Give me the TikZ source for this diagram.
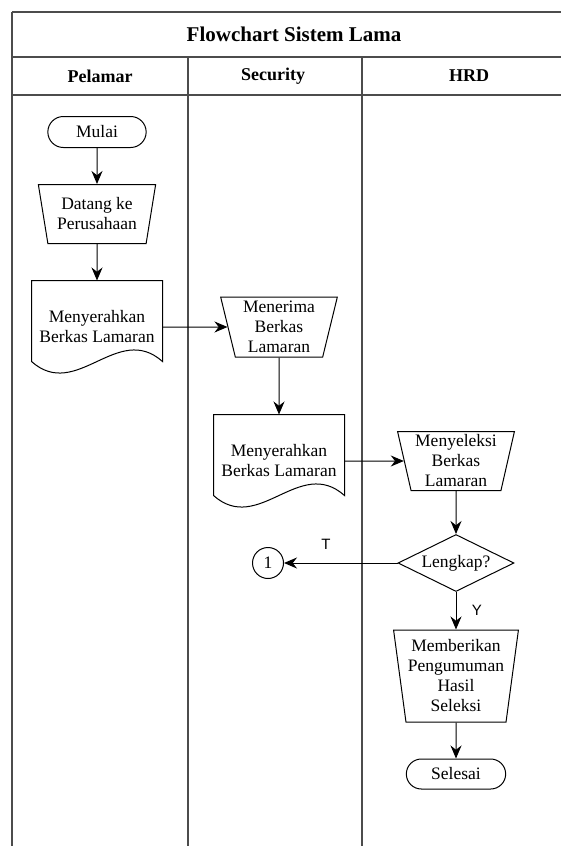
\documentclass[tikz,border=0pt]{standalone}
\usepackage{fontspec}
\setmainfont{Liberation Serif}
\newfontfamily\labelfont{Liberation Sans}
\usetikzlibrary{shapes.geometric,shapes.misc,arrows.meta}

\begin{document}
\begin{tikzpicture}[x=1pt,y=-1pt,
    lane/.style={draw=black!70,line width=1.6pt},
    term/.style={rounded rectangle,minimum width=105pt,minimum height=31pt},
    manual/.style={trapezium,trapezium stretches=true,shape border rotate=180,
      trapezium left angle=#1,trapezium right angle=#1,inner sep=1pt},
    manual/.default=77,
    docbox/.style={rectangle,draw=none,minimum width=130pt,minimum height=92pt},
    decision/.style={diamond,aspect=2,minimum width=116pt,minimum height=57pt,inner sep=0pt},
    conn/.style={circle,minimum size=31pt,inner sep=0pt}]

      \useasboundingbox (0,0) rectangle (561,846);
      \clip (0,0) rectangle (561,846);

      % swimlanes
      \foreach \y in {12,57,95}
        \draw[lane] (12,\y) -- (600,\y);
      \draw[lane] (12,12) -- (12,900);
      \foreach \x in {188,362}
        \draw[lane] (\x,57) -- (\x,900);

      \node[font=\fontsize{21}{24}\selectfont\bfseries] (title) at (294,34) {Flowchart Sistem Lama};
      \begin{scope}[every node/.style={font=\fontsize{18}{20}\selectfont\bfseries}]
        \node (pelamar)  at (100,76) {Pelamar};
        \node (security) at (273,76) {Security};
        \node (hrd)      at (469,76) {HRD};
      \end{scope}

      \begin{scope}[every node/.style={draw,line width=1pt,align=center,
          font=\fontsize{17.5}{20}\selectfont}]
        \node[term] (1) at (97,132) {Mulai};
        \node[manual,minimum width=118pt,minimum height=59pt] (2) at (97,214) {Datang ke\\Perusahaan};
        \node[docbox] (3) at (97,327) {Menyerahkan\\Berkas Lamaran};
        \node[manual,minimum width=117pt,minimum height=60pt] (4) at (279,327) {Menerima\\Berkas\\Lamaran};
        \node[docbox] (5) at (279,461) {Menyerahkan\\Berkas Lamaran};
        \node[manual,minimum width=117pt,minimum height=59pt] (6) at (456,461) {Menyeleksi\\Berkas\\Lamaran};
        \node[decision] (7) at (456,563) {Lengkap?};
        \node[conn] (8) at (268,563) {1};
        \node[manual=80.7,minimum width=125pt,minimum height=92pt] (9) at (456,676) {Memberikan\\Pengumuman\\Hasil\\Seleksi};
        \node[term,minimum width=106pt,minimum height=30pt] (10) at (456,774) {Selesai};
      \end{scope}

      % document outlines
      \foreach \d in {3,5}
        \draw[line width=1pt] (\d.north west) -- (\d.north east) -- ([yshift=12pt]\d.south east)
          .. controls +(-45pt,40pt) and +(45pt,-40pt) .. ([yshift=12pt]\d.south west) -- cycle;

      \begin{scope}[every node/.style={font=\labelfont\fontsize{15}{18}\selectfont}]

        \begin{scope}[every edge/.style={draw,line width=1pt,-{Stealth[length=13pt,width=11pt]}}]
          \path (1) edge (2);
          \path (2) edge (3);
          \path (3) edge (4);
          \path (4) edge (5);
          \path (5) edge (6);
          \path (6) edge (7);
          \path (7) edge node[above=10pt,pos=.63] {T} (8);
          \path (7) edge node[right=12pt] {Y} (9);
          \path (9) edge (10);
        \end{scope}
      \end{scope}

    \end{tikzpicture}
\end{document}
